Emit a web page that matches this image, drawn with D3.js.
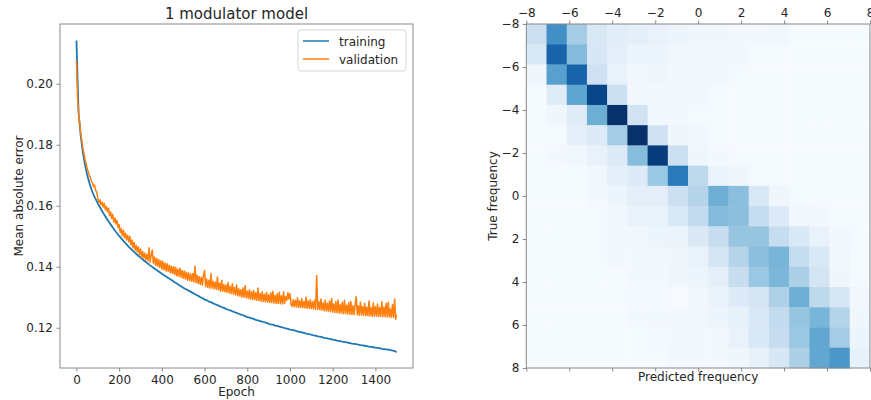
<!DOCTYPE html>
<html lang="en">
<head>
<meta charset="UTF-8">
<title>1 modulator model</title>
<style>
    body { margin: 0; background: #fff; }
    svg { display: block; font-family: "DejaVu Sans", sans-serif; }
    .tick text { font-size: 12px; fill: #262626; }
    .tick line { stroke: #888; }
</style>
<script src="https://cdn.jsdelivr.net/npm/d3@7"></script>
</head>
<body>
<svg width="871" height="400"></svg>
<script>
// ---- learning curves ----
// training MAE, one value every 10 epochs, last one at epoch 1499
const trainMae = [
    .2142, .1905, .1830, .1775, .1735, .1702, .1676, .1654, .1636, .1622,
    .1608, .1595, .1583, .1571, .1560, .1549, .1539, .1529, .1519, .1510,
    .1501, .1493, .1485, .1477, .1469, .1462, .1455, .1449, .1442, .1436,
    .1430, .1424, .1418, .1413, .1407, .1402, .1397, .1392, .1387, .1382,
    .1377, .1372, .1368, .1363, .1359, .1354, .1349, .1345, .1340, .1336,
    .1331, .1327, .1324, .1320, .1316, .1312, .1308, .1305, .1300, .1297,
    .1293, .1290, .1286, .1284, .1280, .1277, .1274, .1271, .1268, .1265,
    .1262, .1259, .1257, .1254, .1251, .1249, .1246, .1243, .1241, .1238,
    .1235, .1233, .1231, .1229, .1226, .1224, .1222, .1220, .1218, .1216,
    .1213, .1211, .1210, .1207, .1206, .1204, .1202, .1200, .1198, .1196,
    .1194, .1193, .1191, .1189, .1187, .1186, .1184, .1182, .1180, .1179,
    .1177, .1175, .1174, .1172, .1171, .1169, .1167, .1166, .1164, .1163,
    .1161, .1160, .1158, .1157, .1155, .1154, .1153, .1151, .1150, .1148,
    .1147, .1146, .1145, .1143, .1142, .1141, .1140, .1138, .1137, .1136,
    .1135, .1134, .1133, .1131, .1130, .1129, .1128, .1127, .1125, .1124,
    .1120
];
const trainEpochs = [...d3.range(0, 1500, 10), 1499];

// validation MAE, one value every 5 epochs, last one at epoch 1499
const validMae = [
    .2076, .1958, .1904, .1870, .1838, .1815, .1790, .1772, .1752, .1740,
    .1722, .1712, .1700, .1694, .1680, .1676, .1662, .1668, .1650, .1645,
    .1625, .1610, .1620, .1603, .1612, .1596, .1608, .1587, .1598, .1580,
    .1592, .1568, .1580, .1558, .1572, .1546, .1560, .1540, .1552, .1528,
    .1538, .1512, .1525, .1502, .1520, .1495, .1510, .1488, .1503, .1482,
    .1500, .1472, .1488, .1462, .1480, .1455, .1470, .1448, .1465, .1440,
    .1458, .1432, .1450, .1428, .1445, .1422, .1440, .1420, .1462, .1415,
    .1438, .1455, .1412, .1432, .1405, .1428, .1402, .1424, .1398, .1420,
    .1392, .1418, .1390, .1412, .1386, .1410, .1385, .1405, .1380, .1402,
    .1378, .1400, .1374, .1398, .1370, .1392, .1368, .1395, .1366, .1388,
    .1362, .1386, .1360, .1382, .1356, .1380, .1355, .1376, .1352, .1378,
    .1350, .1402, .1348, .1372, .1345, .1368, .1342, .1366, .1340, .1372,
    .1388, .1335, .1360, .1332, .1356, .1330, .1378, .1330, .1352, .1328,
    .1350, .1326, .1366, .1324, .1346, .1320, .1356, .1320, .1342, .1318,
    .1340, .1316, .1348, .1314, .1336, .1312, .1344, .1310, .1332, .1308,
    .1340, .1305, .1328, .1304, .1325, .1300, .1330, .1300, .1338, .1298,
    .1320, .1296, .1325, .1294, .1318, .1292, .1322, .1292, .1315, .1290,
    .1330, .1289, .1312, .1287, .1318, .1286, .1310, .1285, .1316, .1284,
    .1308, .1283, .1315, .1282, .1320, .1281, .1306, .1280, .1312, .1280,
    .1316, .1279, .1305, .1278, .1318, .1280, .1302, .1290, .1315, .1295,
    .1312, .1276, .1270, .1292, .1268, .1290, .1268, .1298, .1267, .1288,
    .1266, .1296, .1266, .1286, .1265, .1300, .1264, .1288, .1264, .1292,
    .1263, .1285, .1262, .1290, .1261, .1371, .1260, .1286, .1259, .1294,
    .1258, .1282, .1256, .1290, .1255, .1280, .1254, .1288, .1253, .1296,
    .1251, .1278, .1250, .1286, .1249, .1292, .1248, .1276, .1248, .1284,
    .1246, .1290, .1246, .1274, .1245, .1282, .1244, .1286, .1244, .1272,
    .1243, .1276, .1302, .1242, .1272, .1241, .1284, .1241, .1270, .1240,
    .1280, .1240, .1268, .1239, .1288, .1239, .1266, .1238, .1282, .1238,
    .1270, .1238, .1278, .1237, .1266, .1237, .1285, .1236, .1268, .1236,
    .1280, .1235, .1284, .1235, .1262, .1234, .1276, .1234, .1294, .1228,
    .1242
];
const validEpochs = [...d3.range(0, 1500, 5), 1499];

const epochTicks = [0, 200, 400, 600, 800, 1000, 1200, 1400];
const maeTicks = [0.12, 0.14, 0.16, 0.18, 0.20];

// ---- confusion matrix, rows = true frequency -8..8, cols = predicted -8..8 ----
const freqs = d3.range(-8, 9);
const freqTicks = [-8, -6, -4, -2, 0, 2, 4, 6, 8];
const confusion = [
    [0.22, 0.63, 0.35, 0.15, 0.11, 0.09, 0.07, 0.05, 0.04, 0.04, 0.02, 0.02, 0.035, 0.01, 0.01, 0.01, 0.01],
    [0.15, 0.80, 0.44, 0.16, 0.10, 0.06, 0.06, 0.03, 0.03, 0.03, 0.025, 0.01, 0.01, 0.01, 0.01, 0.01, 0.01],
    [0.04, 0.56, 0.80, 0.20, 0.07, 0.03, 0.04, 0.02, 0.03, 0.03, 0.01, 0.01, 0.01, 0.01, 0.01, 0.01, 0.01],
    [0.01, 0.12, 0.54, 0.92, 0.21, 0.02, 0.02, 0.02, 0.03, 0.01, 0.01, 0.01, 0.01, 0.01, 0.01, 0.01, 0.01],
    [0.01, 0.04, 0.12, 0.50, 1.00, 0.19, 0.02, 0.02, 0.01, 0.01, 0.01, 0.01, 0.01, 0.01, 0.01, 0.01, 0.01],
    [0.01, 0.01, 0.09, 0.13, 0.35, 1.00, 0.20, 0.04, 0.02, 0.01, 0.01, 0.01, 0.01, 0.01, 0.01, 0.01, 0.01],
    [0.01, 0.02, 0.03, 0.07, 0.13, 0.43, 0.96, 0.21, 0.04, 0.02, 0.01, 0.01, 0.01, 0.01, 0.01, 0.01, 0.01],
    [0.01, 0.01, 0.01, 0.03, 0.09, 0.13, 0.38, 0.72, 0.27, 0.06, 0.04, 0.01, 0.01, 0.01, 0.01, 0.01, 0.01],
    [0.01, 0.01, 0.01, 0.02, 0.05, 0.10, 0.10, 0.21, 0.30, 0.50, 0.42, 0.15, 0.04, 0.01, 0.01, 0.01, 0.01],
    [0.01, 0.01, 0.01, 0.01, 0.03, 0.07, 0.07, 0.15, 0.25, 0.44, 0.42, 0.24, 0.13, 0.03, 0.02, 0.01, 0.01],
    [0.01, 0.01, 0.01, 0.01, 0.025, 0.03, 0.05, 0.06, 0.14, 0.23, 0.39, 0.39, 0.24, 0.15, 0.07, 0.02, 0.01],
    [0.01, 0.01, 0.01, 0.01, 0.02, 0.025, 0.03, 0.04, 0.07, 0.17, 0.30, 0.42, 0.47, 0.24, 0.15, 0.03, 0.01],
    [0.01, 0.01, 0.01, 0.01, 0.01, 0.02, 0.02, 0.04, 0.05, 0.10, 0.23, 0.38, 0.46, 0.33, 0.18, 0.04, 0.01],
    [0.01, 0.01, 0.01, 0.01, 0.01, 0.015, 0.015, 0.005, 0.03, 0.07, 0.13, 0.17, 0.32, 0.50, 0.27, 0.16, 0.03],
    [0.01, 0.01, 0.01, 0.01, 0.01, 0.02, 0.02, 0.02, 0.03, 0.05, 0.08, 0.15, 0.25, 0.39, 0.47, 0.30, 0.04],
    [0.01, 0.01, 0.01, 0.01, 0.01, 0.01, 0.015, 0.02, 0.02, 0.02, 0.07, 0.15, 0.23, 0.38, 0.53, 0.35, 0.05],
    [0.01, 0.01, 0.01, 0.01, 0.01, 0.01, 0.01, 0.02, 0.02, 0.02, 0.04, 0.08, 0.16, 0.33, 0.53, 0.60, 0.08]
];

const svg = d3.select("svg");
const textColor = "#262626";
const spineColor = "#888";

// =================== left: learning curves ===================
const L = {left: 60, right: 413, top: 24, bottom: 368};
const x = d3.scaleLinear().domain([-77, 1576]).range([L.left, L.right]);
const y = d3.scaleLinear().domain([0.1068, 0.2196]).range([L.bottom, L.top]);

svg.append("clipPath").attr("id", "clipL")
    .append("rect").attr("x", L.left).attr("y", L.top)
    .attr("width", L.right - L.left).attr("height", L.bottom - L.top);

const line = d3.line().x(d => x(d[0])).y(d => y(d[1]));

const curves = svg.append("g").attr("clip-path", "url(#clipL)");
curves.append("path")
    .datum(d3.zip(trainEpochs, trainMae))
    .attr("fill", "none").attr("stroke", "#1f77b4").attr("stroke-width", 1.8)
    .attr("stroke-linejoin", "round")
    .attr("d", line);
curves.append("path")
    .datum(d3.zip(validEpochs, validMae))
    .attr("fill", "none").attr("stroke", "#ff7f0e").attr("stroke-width", 1.5)
    .attr("stroke-linejoin", "round")
    .attr("d", line);

const xAxisL = svg.append("g").attr("transform", `translate(0,${L.bottom})`)
    .call(d3.axisBottom(x).tickValues(epochTicks).tickSize(3.5).tickPadding(3.5).tickFormat(d3.format("d")));
const yAxisL = svg.append("g").attr("transform", `translate(${L.left},0)`)
    .call(d3.axisLeft(y).tickValues(maeTicks).tickSize(3.5).tickPadding(3.5).tickFormat(d3.format(".2f")));
xAxisL.select(".domain").remove();
yAxisL.select(".domain").remove();

svg.append("rect")
    .attr("x", L.left).attr("y", L.top)
    .attr("width", L.right - L.left).attr("height", L.bottom - L.top)
    .attr("fill", "none").attr("stroke", spineColor).attr("stroke-width", 1);

svg.append("text")
    .attr("x", (L.left + L.right) / 2).attr("y", 19)
    .attr("text-anchor", "middle").attr("font-size", 15).attr("fill", textColor)
    .text("1 modulator model");
svg.append("text")
    .attr("x", (L.left + L.right) / 2).attr("y", 396)
    .attr("text-anchor", "middle").attr("font-size", 12).attr("fill", textColor)
    .text("Epoch");
svg.append("text")
    .attr("transform", `translate(23,${(L.top + L.bottom) / 2}) rotate(-90)`)
    .attr("text-anchor", "middle").attr("font-size", 12).attr("fill", textColor)
    .text("Mean absolute error");

// legend
const legend = svg.append("g").attr("transform", "translate(298,30)");
legend.append("rect")
    .attr("width", 108).attr("height", 41).attr("rx", 3)
    .attr("fill", "#fff").attr("fill-opacity", 0.8)
    .attr("stroke", "#d6d6d6");
[["training", "#1f77b4"], ["validation", "#ff7f0e"]].forEach(function (d, i) {
    legend.append("line")
        .attr("x1", 5).attr("x2", 31).attr("y1", 11 + i * 18).attr("y2", 11 + i * 18)
        .attr("stroke", d[1]).attr("stroke-width", 1.5);
    legend.append("text")
        .attr("x", 41).attr("y", 15.5 + i * 18)
        .attr("font-size", 12).attr("fill", textColor)
        .text(d[0]);
});

// =================== right: confusion heatmap ===================
const R = {left: 526.3, right: 870, top: 24, bottom: 368};
const fx = d3.scaleLinear().domain([-8, 8]).range([R.left, R.right]);
const fy = d3.scaleLinear().domain([-8, 8]).range([R.top, R.bottom]);
const cx = d3.scaleBand().domain(freqs).range([R.left, R.right]);
const cy = d3.scaleBand().domain(freqs).range([R.top, R.bottom]);
const color = d3.scaleSequential(d3.interpolateBlues).domain([0, 1]);

const cells = [];
confusion.forEach(function (row, i) {
    row.forEach(function (v, j) {
        cells.push({t: freqs[i], p: freqs[j], v: v});
    });
});

svg.append("g").selectAll("rect")
    .data(cells).enter().append("rect")
    .attr("x", d => cx(d.p)).attr("y", d => cy(d.t))
    .attr("width", cx.bandwidth() + 0.4).attr("height", cy.bandwidth() + 0.4)
    .attr("fill", d => color(d.v));

const xAxisTop = svg.append("g").attr("transform", `translate(0,${R.top})`)
    .call(d3.axisTop(fx).tickValues(freqTicks).tickSize(3.5).tickPadding(3.5).tickFormat(d3.format("d")));
const xAxisBot = svg.append("g").attr("transform", `translate(0,${R.bottom})`)
    .call(d3.axisBottom(fx).tickValues(freqTicks).tickSize(3.5).tickFormat(""));
const yAxisR = svg.append("g").attr("transform", `translate(${R.left},0)`)
    .call(d3.axisLeft(fy).tickValues(freqTicks).tickSize(3.5).tickPadding(3.5).tickFormat(d3.format("d")));
xAxisTop.select(".domain").remove();
xAxisBot.select(".domain").remove();
yAxisR.select(".domain").remove();

svg.append("rect")
    .attr("x", R.left).attr("y", R.top)
    .attr("width", R.right - R.left).attr("height", R.bottom - R.top)
    .attr("fill", "none").attr("stroke", spineColor).attr("stroke-width", 1);

svg.append("text")
    .attr("x", (R.left + R.right) / 2).attr("y", 381)
    .attr("text-anchor", "middle").attr("font-size", 12).attr("fill", textColor)
    .text("Predicted frequency");
svg.append("text")
    .attr("transform", `translate(497,${(R.top + R.bottom) / 2}) rotate(-90)`)
    .attr("text-anchor", "middle").attr("font-size", 12).attr("fill", textColor)
    .text("True frequency");

svg.selectAll(".tick text").attr("font-family", "DejaVu Sans, sans-serif");
</script>
</body>
</html>
